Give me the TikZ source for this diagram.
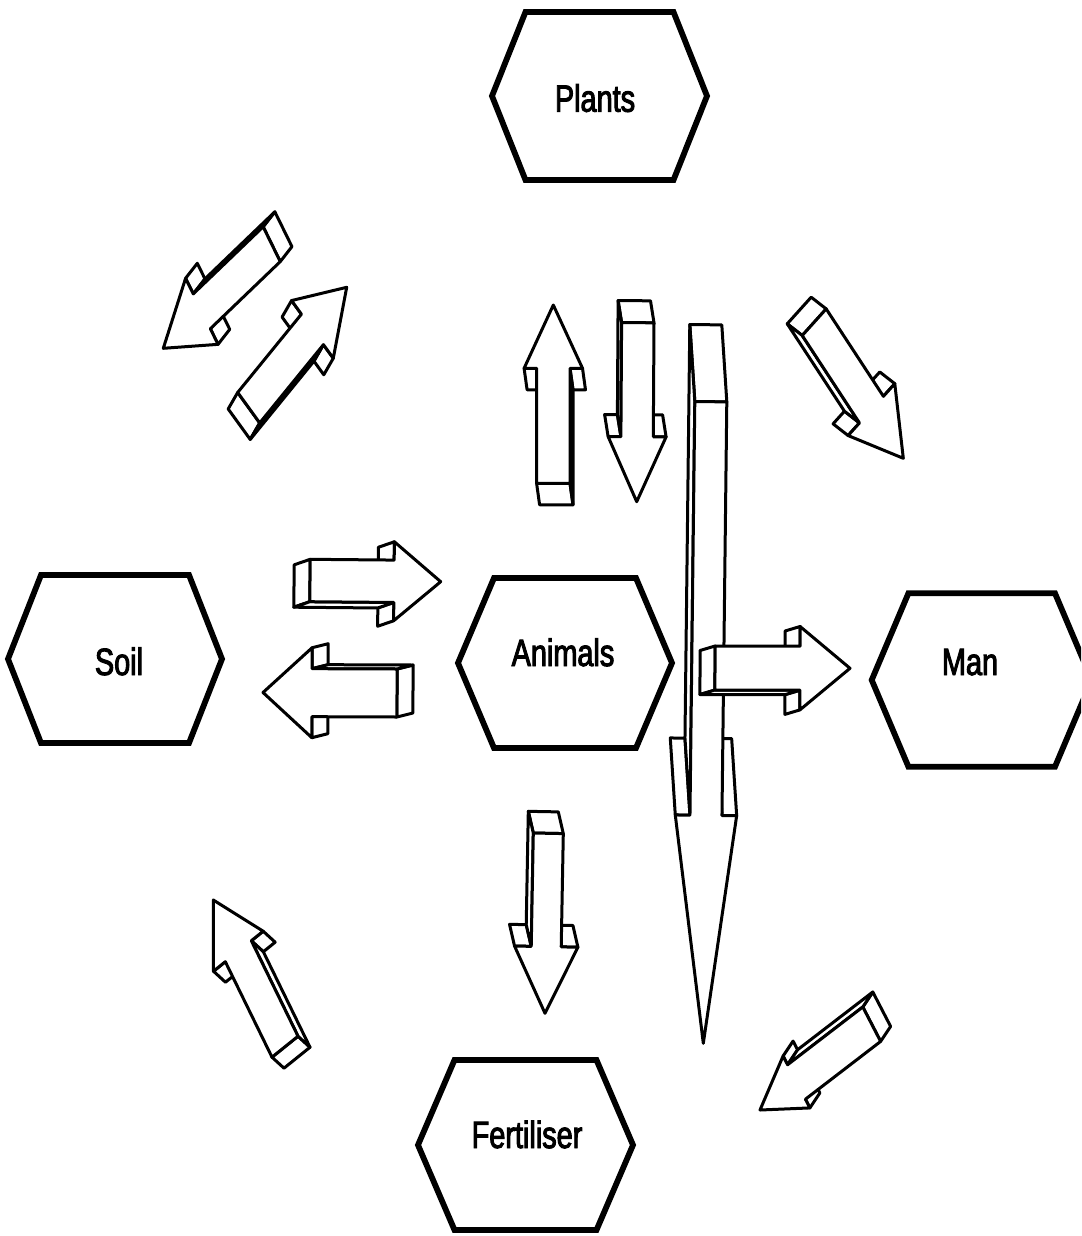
\documentclass[tikz,border=0pt]{standalone}
\usepackage{fontspec}
\setmainfont{Liberation Sans}[FakeStretch=0.76,FakeBold=2.5]

% scratch registers for reading coordinates back
\newdimen\baX
\newdimen\baY

\tikzset{
  hexline/.style={line width=2.9pt, line join=miter},
  arrowface/.style={fill=white, draw=black, line width=1.5pt, line join=round},
  lbl/.style={font=\fontsize{19pt}{19pt}\selectfont, inner sep=0pt, anchor=base},
}

% read a named coordinate back in picture units (1 unit = 0.5pt, y downwards)
\newcommand\bagetxy[3]{%
  \pgfextractx{\baX}{\pgfpointanchor{#1}{center}}%
  \pgfextracty{\baY}{\pgfpointanchor{#1}{center}}%
  \pgfmathsetmacro#2{2*\baX}%
  \pgfmathsetmacro#3{-2*\baY}}

% side face of the extruded arrow between two outline points, drawn only
% when it turns towards the viewer
\newcommand\baface[4]{%
  \pgfmathsetmacro\bac{(((#3)-(#1))/100*(\bady)-((#4)-(#2))/100*(\badx))*(\basig)}%
  \ifdim\bac pt<-0.001pt
    \filldraw[arrowface] (#1,#2) -- (#3,#4) -- ({#3+(\badx)},{#4+(\bady)})
      -- ({#1+(\badx)},{#2+(\bady)}) -- cycle;
  \fi}

% block arrow with thickness
% #1 tail, #2 tip, #3 shaft half width, #4 head half width, #5 head length,
% #6 skew of the cross direction (deg), #7,#8 depth offset
\newcommand\blockarrow[8]{%
  \bagetxy{#1}\baTx\baTy
  \bagetxy{#2}\baPx\baPy
  \pgfmathsetmacro\baL{veclen((\baPx)-(\baTx),(\baPy)-(\baTy))}%
  \pgfmathsetmacro\baUx{((\baPx)-(\baTx))/(\baL)}%
  \pgfmathsetmacro\baUy{((\baPy)-(\baTy))/(\baL)}%
  \pgfmathsetmacro\baVx{-cos(#6)*(\baUy)-sin(#6)*(\baUx)}%
  \pgfmathsetmacro\baVy{-sin(#6)*(\baUy)+cos(#6)*(\baUx)}%
  \pgfmathsetmacro\basig{(\baUx)*(\baVy)-(\baUy)*(\baVx)}%
  \pgfmathsetmacro\baSx{(\baPx)-(#5)*(\baUx)}%
  \pgfmathsetmacro\baSy{(\baPy)-(#5)*(\baUy)}%
  \def\badx{#7}\def\bady{#8}%
  \pgfmathsetmacro\baAx{(\baTx)+(#3)*(\baVx)}\pgfmathsetmacro\baAy{(\baTy)+(#3)*(\baVy)}%
  \pgfmathsetmacro\baBx{(\baTx)-(#3)*(\baVx)}\pgfmathsetmacro\baBy{(\baTy)-(#3)*(\baVy)}%
  \pgfmathsetmacro\baCx{(\baSx)-(#3)*(\baVx)}\pgfmathsetmacro\baCy{(\baSy)-(#3)*(\baVy)}%
  \pgfmathsetmacro\baDx{(\baSx)-(#4)*(\baVx)}\pgfmathsetmacro\baDy{(\baSy)-(#4)*(\baVy)}%
  \let\baEx\baPx \let\baEy\baPy
  \pgfmathsetmacro\baFx{(\baSx)+(#4)*(\baVx)}\pgfmathsetmacro\baFy{(\baSy)+(#4)*(\baVy)}%
  \pgfmathsetmacro\baGx{(\baSx)+(#3)*(\baVx)}\pgfmathsetmacro\baGy{(\baSy)+(#3)*(\baVy)}%
  \baface\baAx\baAy\baBx\baBy
  \baface\baBx\baBy\baCx\baCy
  \baface\baCx\baCy\baDx\baDy
  \baface\baDx\baDy\baEx\baEy
  \baface\baEx\baEy\baFx\baFy
  \baface\baFx\baFy\baGx\baGy
  \baface\baGx\baGy\baAx\baAy
  \filldraw[arrowface] (\baAx,\baAy) -- (\baBx,\baBy) -- (\baCx,\baCy) -- (\baDx,\baDy)
    -- (\baEx,\baEy) -- (\baFx,\baFy) -- (\baGx,\baGy) -- cycle;
}

% hexagon round a centre: #1 centre, #2 half width, #3 half top edge, #4 half height
\newcommand\hexat[4]{%
  \draw[hexline] (#1) +(-#2,0) -- +(-#3,-#4) -- +(#3,-#4) -- +(#2,0)
    -- +(#3,#4) -- +(-#3,#4) -- cycle;}

\begin{document}
\begin{tikzpicture}[x=0.5pt,y=-0.5pt]
\useasboundingbox[fill=white] (0,0) rectangle (1081,1236);
\begin{scope}
\clip (0,0) rectangle (1081,1236);

% hexagons and their labels
\coordinate (plants-c) at (599.5,96);
\coordinate (soil-c) at (115,659);
\coordinate (animals-c) at (565,663);
\coordinate (man-c) at (981.7,680);
\coordinate (fert-c) at (525.5,1145);
\hexat{plants-c}{107.5}{74}{84}
\hexat{soil-c}{107}{74}{84}
\hexat{animals-c}{107}{71}{85}
\hexat{man-c}{110}{73.3}{86.7}
\hexat{fert-c}{107.5}{71}{85}
\node[lbl] (plants) at (595,111.7) {Plants};
\node[lbl] (soil) at (119,675) {Soil};
\node[lbl] (animals) at (563,666) {Animals};
\node[lbl] (man) at (970,675) {Man};
\node[lbl] (fert) at (527,1148) {Fertiliser};

% arrow ends
\coordinate (p2s-t) at (271.7,244.2);   \coordinate (p2s-h) at (163.3,348.3);
\coordinate (s2p-t) at (248.7,407.7);   \coordinate (s2p-h) at (346.7,287.3);
\coordinate (a2p-t) at (553.3,483.3);   \coordinate (a2p-h) at (553.3,305);
\coordinate (p2a-t) at (637.8,322.7);   \coordinate (p2a-h) at (636.7,501.7);
\coordinate (p2f-t) at (710.8,401.7);   \coordinate (p2f-h) at (703.3,1043.3);
\coordinate (p2m-t) at (814.2,322.2);   \coordinate (p2m-h) at (903.3,458.3);
\coordinate (s2a-t) at (310,580.5);     \coordinate (s2a-h) at (440.7,581.7);
\coordinate (a2s-t) at (397,693);       \coordinate (a2s-h) at (263,692.5);
\coordinate (a2m-t) at (715,668);       \coordinate (a2m-h) at (850,668.3);
\coordinate (a2f-t) at (548.3,833.3);   \coordinate (a2f-h) at (545,1013.3);
\coordinate (f2s-t) at (285,1046.7);    \coordinate (f2s-h) at (213.3,900);
\coordinate (m2f-t) at (871.7,1024.2);  \coordinate (m2f-h) at (760,1110);

% block arrows
\blockarrow{p2s-t}{p2s-h}{19.4}{36.8}{53.4}{17.7}{11.7}{-15}
\blockarrow{s2p-t}{s2p-h}{18.8}{35.6}{54.3}{15}{-9.5}{16.5}
\blockarrow{a2p-t}{a2p-h}{16.7}{29.2}{63.3}{0}{3}{21.5}
\blockarrow{p2a-t}{p2a-h}{16.2}{29}{65}{0}{-3.5}{-22}
\blockarrow{p2f-t}{p2f-h}{16}{30.7}{228}{0}{-5}{-77}
\blockarrow{p2m-t}{p2m-h}{17.9}{34.9}{58.2}{-14.8}{-15}{-11.7}
\blockarrow{s2a-t}{s2a-h}{21.2}{39.5}{46.7}{0}{-16}{5.5}
\blockarrow{a2s-t}{a2s-h}{24}{45}{49}{0}{16}{-4}
\blockarrow{a2m-t}{a2m-h}{22}{41.7}{50}{0}{-15}{4.5}
\blockarrow{a2f-t}{a2f-h}{15}{31.7}{66.7}{0}{-5}{-21.7}
\blockarrow{f2s-t}{f2s-h}{16.7}{31.9}{57}{-12.8}{12}{11}
\blockarrow{m2f-t}{m2f-h}{19.4}{29.2}{46}{10.2}{10}{-15}
\end{scope}
\end{tikzpicture}
\end{document}
